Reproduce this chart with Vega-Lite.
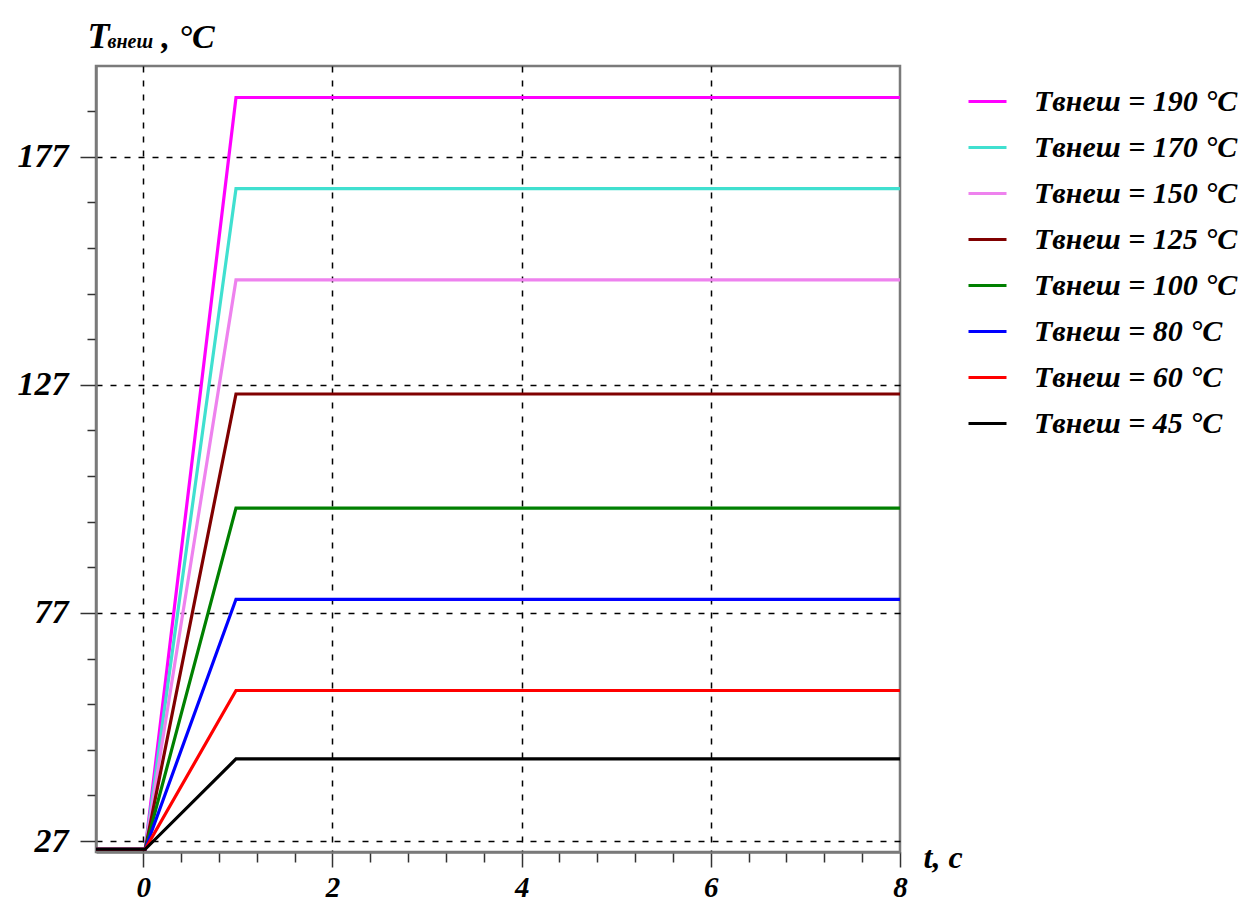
{
  "$schema": "https://vega.github.io/schema/vega-lite/v6.json",
  "width": 804,
  "height": 786,
  "autosize": "none",
  "padding": {"left": 96, "top": 66, "right": 356, "bottom": 51},
  "background": "white",
  "config": {
    "view": {"stroke": "#7a7a7a", "strokeWidth": 2.5},
    "axis": {
      "labelFont": "Liberation Serif",
      "labelFontStyle": "italic",
      "labelFontWeight": "bold",
      "labelColor": "black",
      "titleFont": "Liberation Serif",
      "titleFontStyle": "italic",
      "titleFontWeight": "bold",
      "titleColor": "black",
      "domainColor": "#7a7a7a",
      "domainWidth": 2.5,
      "tickColor": "#333333",
      "tickWidth": 1.5,
      "gridColor": "black",
      "gridDash": [6, 8],
      "gridWidth": 1.5,
      "labelOverlap": false,
      "labelFlush": false
    }
  },
  "datasets": {
    "heating": [
      {"t": -0.5, "T": 25.2, "series": "Tвнеш = 190 °C"},
      {"t": 0.02, "T": 25.2, "series": "Tвнеш = 190 °C"},
      {"t": 0.98, "T": 190, "series": "Tвнеш = 190 °C"},
      {"t": 8, "T": 190, "series": "Tвнеш = 190 °C"},
      {"t": -0.5, "T": 25.2, "series": "Tвнеш = 170 °C"},
      {"t": 0.02, "T": 25.2, "series": "Tвнеш = 170 °C"},
      {"t": 0.98, "T": 170, "series": "Tвнеш = 170 °C"},
      {"t": 8, "T": 170, "series": "Tвнеш = 170 °C"},
      {"t": -0.5, "T": 25.2, "series": "Tвнеш = 150 °C"},
      {"t": 0.02, "T": 25.2, "series": "Tвнеш = 150 °C"},
      {"t": 0.98, "T": 150, "series": "Tвнеш = 150 °C"},
      {"t": 8, "T": 150, "series": "Tвнеш = 150 °C"},
      {"t": -0.5, "T": 25.2, "series": "Tвнеш = 125 °C"},
      {"t": 0.02, "T": 25.2, "series": "Tвнеш = 125 °C"},
      {"t": 0.98, "T": 125, "series": "Tвнеш = 125 °C"},
      {"t": 8, "T": 125, "series": "Tвнеш = 125 °C"},
      {"t": -0.5, "T": 25.2, "series": "Tвнеш = 100 °C"},
      {"t": 0.02, "T": 25.2, "series": "Tвнеш = 100 °C"},
      {"t": 0.98, "T": 100, "series": "Tвнеш = 100 °C"},
      {"t": 8, "T": 100, "series": "Tвнеш = 100 °C"},
      {"t": -0.5, "T": 25.2, "series": "Tвнеш = 80 °C"},
      {"t": 0.02, "T": 25.2, "series": "Tвнеш = 80 °C"},
      {"t": 0.98, "T": 80, "series": "Tвнеш = 80 °C"},
      {"t": 8, "T": 80, "series": "Tвнеш = 80 °C"},
      {"t": -0.5, "T": 25.2, "series": "Tвнеш = 60 °C"},
      {"t": 0.02, "T": 25.2, "series": "Tвнеш = 60 °C"},
      {"t": 0.98, "T": 60, "series": "Tвнеш = 60 °C"},
      {"t": 8, "T": 60, "series": "Tвнеш = 60 °C"},
      {"t": -0.5, "T": 25.2, "series": "Tвнеш = 45 °C"},
      {"t": 0.02, "T": 25.2, "series": "Tвнеш = 45 °C"},
      {"t": 0.98, "T": 45, "series": "Tвнеш = 45 °C"},
      {"t": 8, "T": 45, "series": "Tвнеш = 45 °C"}
    ]
  },
  "data": {"name": "heating"},
  "resolve": {"axis": {"x": "independent", "y": "independent"}},
  "layer": [
    {
      "mark": {"type": "line", "strokeWidth": 3.2, "clip": true},
      "encoding": {
        "x": {
          "field": "t",
          "type": "quantitative",
          "scale": {"domain": [-0.5, 8], "nice": false, "zero": false},
          "axis": {
            "values": [0, 0.4, 0.8, 1.2, 1.6, 2, 2.4, 2.8, 3.2, 3.6, 4, 4.4, 4.8, 5.2, 5.6, 6, 6.4, 6.8, 7.2, 7.6, 8],
            "labelExpr": "datum.value % 2 === 0 ? format(datum.value, 'd') : ''",
            "labelFontSize": 29,
            "labelPadding": 6,
            "tickSize": {"condition": {"test": "datum.value % 2 === 0", "value": 15}, "value": 10},
            "grid": true,
            "gridOpacity": {"condition": {"test": "datum.value % 2 === 0 && datum.value < 8", "value": 1}, "value": 0},
            "title": "t, c",
            "titleFontSize": 32,
            "titleX": 827,
            "titleY": 5,
            "titleAlign": "left",
            "titleBaseline": "middle",
            "titleAnchor": null
          }
        },
        "y": {
          "field": "T",
          "type": "quantitative",
          "scale": {"domain": [24.6, 196.9], "nice": false, "zero": false},
          "axis": {
            "values": [27, 37, 47, 57, 67, 77, 87, 97, 107, 117, 127, 137, 147, 157, 167, 177, 187],
            "labelExpr": "(datum.value - 27) % 50 === 0 ? datum.label : ''",
            "labelFontSize": 34,
            "labelPadding": 12,
            "tickSize": {"condition": {"test": "(datum.value - 27) % 50 === 0", "value": 16}, "value": 9},
            "grid": true,
            "gridOpacity": {"condition": {"test": "(datum.value - 27) % 50 === 0", "value": 1}, "value": 0},
            "title": "T",
            "titleFontSize": 36,
            "titleAngle": 0,
            "titleX": -9,
            "titleY": -19,
            "titleAlign": "left",
            "titleBaseline": "alphabetic"
          }
        },
        "color": {
          "field": "series",
          "type": "nominal",
          "scale": {
            "domain": ["Tвнеш = 190 °C", "Tвнеш = 170 °C", "Tвнеш = 150 °C", "Tвнеш = 125 °C", "Tвнеш = 100 °C", "Tвнеш = 80 °C", "Tвнеш = 60 °C", "Tвнеш = 45 °C"],
            "range": ["#ff00ff", "#40e0d0", "#ee82ee", "#800000", "#008000", "#0000ff", "#ff0000", "#000000"]
          },
          "legend": {
            "orient": "none",
            "legendX": 871,
            "legendY": 15,
            "title": null,
            "symbolType": "stroke",
            "symbolSize": 1444,
            "symbolStrokeWidth": 3,
            "labelFont": "Liberation Serif",
            "labelFontStyle": "italic",
            "labelFontWeight": "bold",
            "labelFontSize": 30,
            "labelColor": "black",
            "labelOffset": 26,
            "labelLimit": 400,
            "rowPadding": 10
          }
        }
      }
    },
    {
      "mark": {"type": "line", "opacity": 0},
      "encoding": {
        "x": {
          "field": "t",
          "type": "quantitative",
          "axis": {
            "orient": "top",
            "labels": false,
            "ticks": false,
            "domain": false,
            "grid": false,
            "title": "внеш",
            "titleFontSize": 20,
            "titleX": 11,
            "titleY": -19,
            "titleAlign": "left",
            "titleBaseline": "alphabetic"
          }
        },
        "y": {
          "field": "T",
          "type": "quantitative",
          "axis": {
            "orient": "left",
            "labels": false,
            "ticks": false,
            "domain": false,
            "grid": false,
            "title": ", °C",
            "titleFontSize": 34,
            "titleAngle": 0,
            "titleX": 65,
            "titleY": -19,
            "titleAlign": "left",
            "titleBaseline": "alphabetic"
          }
        },
        "detail": {"field": "series", "type": "nominal"}
      }
    }
  ]
}
